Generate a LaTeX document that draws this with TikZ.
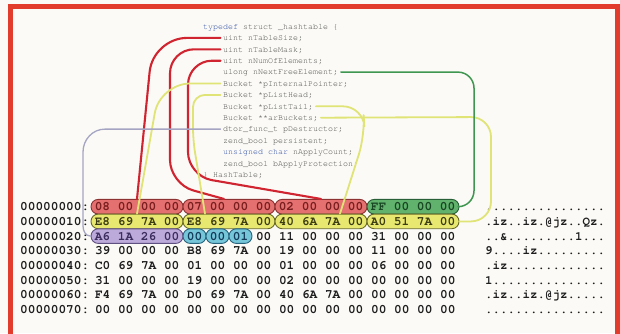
\documentclass[tikz,border=0pt]{standalone}
\usepackage{fontspec}
\newfontfamily\codefont{texgyrecursor-regular.otf}
\newfontfamily\hexfont{texgyrecursor-bold.otf}

\definecolor{paper}{RGB}{251,250,246}
\definecolor{framered}{RGB}{226,60,44}
\definecolor{codegray}{RGB}{80,80,80}
\definecolor{keyblue}{RGB}{50,80,165}
\definecolor{hexink}{RGB}{30,30,30}
\definecolor{redfill}{RGB}{228,112,112}
\definecolor{rededge}{RGB}{140,50,50}
\definecolor{redink}{RGB}{120,30,30}
\definecolor{greenfill}{RGB}{96,178,108}
\definecolor{greenedge}{RGB}{40,95,55}
\definecolor{greenink}{RGB}{25,70,35}
\definecolor{yelfill}{RGB}{232,232,112}
\definecolor{yeledge}{RGB}{105,105,40}
\definecolor{yelink}{RGB}{60,60,20}
\definecolor{purfill}{RGB}{188,170,218}
\definecolor{puredge}{RGB}{95,80,130}
\definecolor{purink}{RGB}{60,45,95}
\definecolor{bluefill}{RGB}{118,198,218}
\definecolor{blueedge}{RGB}{40,100,125}
\definecolor{blueink}{RGB}{20,60,90}
\definecolor{redwire}{RGB}{208,36,48}
\definecolor{greenwire}{RGB}{62,150,80}
\definecolor{yelwire}{RGB}{224,228,118}
\definecolor{graywire}{RGB}{165,165,195}

\tikzset{
  codeline/.style={anchor=west, inner xsep=2.5pt, inner ysep=0pt,
    text height=5.5pt, text depth=0pt,
    font=\codefont\fontsize{8.33}{8.33}\selectfont, text=codegray},
  hexrow/.style={anchor=west, inner sep=0pt, text height=7.8pt, text depth=0pt,
    font=\hexfont\fontsize{12.78}{12.78}\selectfont, text=hexink},
  asciirow/.style={hexrow, font=\hexfont\fontsize{12.5}{12.5}\selectfont},
  pill/.style={draw, line width=0.9pt, rounded corners=7.2pt,
    minimum height=14.6pt, inner sep=0pt, text height=7.8pt, text depth=0pt,
    font=\hexfont\fontsize{12.78}{12.78}\selectfont},
  quad/.style={pill, minimum width=92pt},
  single/.style={pill, minimum width=23pt},
  redpill/.style={fill=redfill, draw=rededge, text=redink},
  greenpill/.style={fill=greenfill, draw=greenedge, text=greenink},
  yelpill/.style={fill=yelfill, draw=yeledge, text=yelink},
  purpill/.style={fill=purfill, draw=puredge, text=purink},
  bluepill/.style={fill=bluefill, draw=blueedge, text=blueink},
  wire/.style={line cap=round, line join=round},
  redlink/.style={wire, draw=redwire, line width=2.1pt},
  yellink/.style={wire, draw=yelwire, line width=1.8pt},
  greenlink/.style={wire, draw=greenwire, line width=1.5pt},
  graylink/.style={wire, draw=graywire, line width=1.3pt},
}

\begin{document}
\begin{tikzpicture}[x=1pt, y=-1pt]
\useasboundingbox (0,0) rectangle (620,333);
\fill[paper] (0,0) rectangle (620,333);
\draw[framered, line width=5pt] (10,6) rectangle (617.5,337);

% struct declaration
\node[codeline] (c0) at (200.5,26.5) {{\color{keyblue}typedef} struct \_hashtable \{};
\node[codeline] (c1) at (220.5,37.9) {uint nTableSize;};
\node[codeline] (c2) at (220.5,49.3) {uint nTableMask;};
\node[codeline] (c3) at (220.5,60.7) {uint nNumOfElements;};
\node[codeline] (c4) at (220.5,72.1) {ulong nNextFreeElement;};
\node[codeline] (c5) at (220.5,83.5) {Bucket *pInternalPointer;};
\node[codeline] (c6) at (220.5,94.9) {Bucket *pListHead;};
\node[codeline] (c7) at (220.5,106.3) {Bucket *pListTail;};
\node[codeline] (c8) at (220.5,117.7) {Bucket **arBuckets;};
\node[codeline] (c9) at (220.5,129.1) {dtor\_func\_t pDestructor;};
\node[codeline] (c10) at (220.5,140.5) {zend\_bool persistent;};
\node[codeline] (c11) at (220.5,151.9) {{\color{keyblue}unsigned char} nApplyCount;};
\node[codeline] (c12) at (220.5,163.3) {zend\_bool bApplyProtection;};
\node[codeline] (c13) at (200.5,174.7) {\} HashTable;};

% offsets
\foreach \i/\a in {0/00000000:,1/00000010:,2/00000020:,3/00000030:,4/00000040:,5/00000050:,6/00000060:,7/00000070:}
  \node[hexrow] (addr\i) at (20,{206.7+14.7*\i}) {\a};

% highlighted fields
\node[quad, redpill]   (p00) at (137,206.7) {08 00 00 00};
\node[quad, redpill]   (p01) at (229,206.7) {07 00 00 00};
\node[quad, redpill]   (p02) at (321,206.7) {02 00 00 00};
\node[quad, greenpill] (p03) at (413,206.7) {FF 00 00 00};
\node[quad, yelpill]   (p10) at (137,221.4) {E8 69 7A 00};
\node[quad, yelpill]   (p11) at (229,221.4) {E8 69 7A 00};
\node[quad, yelpill]   (p12) at (321,221.4) {40 6A 7A 00};
\node[quad, yelpill]   (p13) at (413,221.4) {A0 51 7A 00};
\node[quad, purpill]   (p20) at (137,236.1) {A6 1A 26 00};
\node[single, bluepill] (p21) at (194.5,236.1) {00};
\node[single, bluepill] (p22) at (217.5,236.1) {00};
\node[single, bluepill] (p23) at (240.5,236.1) {01};

% plain bytes
\node[hexrow] (h2) at (255.83,236.1) {00 11 00 00 00 31 00 00 00};
\node[hexrow] (h3) at (94.83,250.8) {39 00 00 00 B8 69 7A 00 19 00 00 00 11 00 00 00};
\node[hexrow] (h4) at (94.83,265.5) {C0 69 7A 00 01 00 00 00 01 00 00 00 06 00 00 00};
\node[hexrow] (h5) at (94.83,280.2) {31 00 00 00 19 00 00 00 02 00 00 00 00 00 00 00};
\node[hexrow] (h6) at (94.83,294.9) {F4 69 7A 00 D0 69 7A 00 40 6A 7A 00 00 00 00 00};
\node[hexrow] (h7) at (94.83,309.6) {00 00 00 00 00 00 00 00 00 00 00 00 00 00 00 00};

% ascii dump
\node[asciirow] (a0) at (485,206.7) {................};
\node[asciirow] (a1) at (485,221.4) {.iz..iz.@jz..Qz.};
\node[asciirow] (a2) at (485,236.1) {..\&.........1...};
\node[asciirow] (a3) at (485,250.8) {9....iz.........};
\node[asciirow] (a4) at (485,265.5) {.iz.............};
\node[asciirow] (a5) at (485,280.2) {1...............};
\node[asciirow] (a6) at (485,294.9) {.iz..iz.@jz.....};
\node[asciirow] (a7) at (485,309.6) {................};

% field -> bytes
\draw[redlink, rounded corners=34pt] (c1.west) -- (153,37.9) -- (p00.north);
\draw[redlink, rounded corners=24pt] (c2.west) -- (170,49.3) -- (170,184) -- ([xshift=-5pt]p01.north);
\draw[redlink, rounded corners=24pt] (c3.west) -- (188,60.7) -- (188,176) -- (p02.north);

\draw[yellink, rounded corners=30pt] (c5.west) -- (160,83.5) -- (p10.north);
\draw[yellink, rounded corners=12pt] (c6.west) -- (193,94.9) -- (193,140) -- ([xshift=-24pt]p11.north);
\draw[yellink, rounded corners=20pt] (c7.east) -- (363,106.3) -- (365,135) -- ([xshift=19pt]p12.north);
\draw[yellink, rounded corners=20pt] (c8.east) -- (491,117) -- (491,221.4) -- (p13.east);

\draw[greenlink, rounded corners=16pt] (c4.east) -- (474,72.1) -- (474,206.7) -- (p03.east);

\draw[graylink] (c9.west) -- (105,129.1) to[out=180,in=90] (83,152) -- (83,226) to[out=270,in=180] (p20.west);
\end{tikzpicture}
\end{document}
